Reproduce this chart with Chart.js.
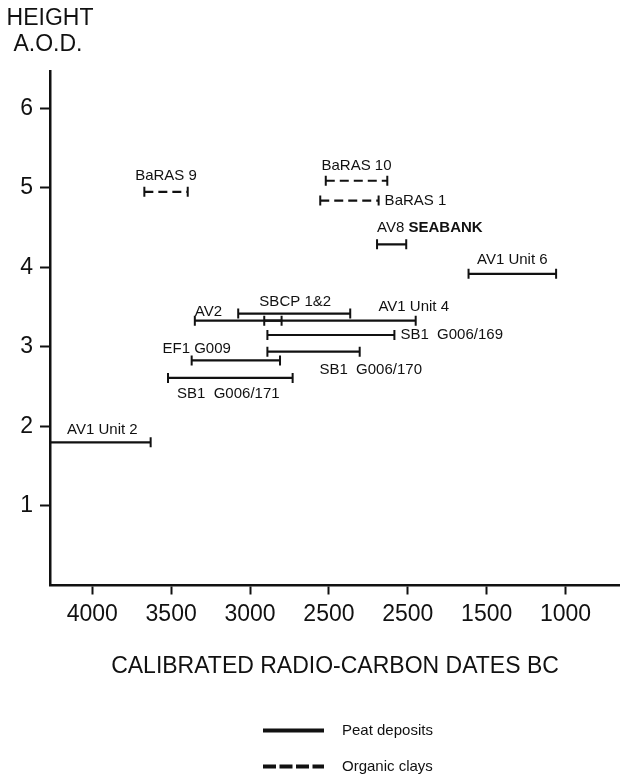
<!DOCTYPE html>
<html>
<head>
<meta charset="utf-8">
<title>Radiocarbon dates and heights</title>
<script src="https://cdn.jsdelivr.net/npm/chart.js@4.4.1/dist/chart.umd.min.js"></script>
<style>
    html, body { margin: 0; padding: 0; background: #fff; overflow: hidden; }
    /* a little wider than the window: Chart.js keeps room for the end caps on the right */
    #wrap { width: 627px; height: 779px; position: relative; }
</style>
</head>
<body>
<div id="wrap"><canvas id="datesChart"></canvas></div>
<script>
// Date ranges (cal BC) and heights (m A.O.D.)
const sampleNames = ['BaRAS 9', 'BaRAS 10', 'BaRAS 1', 'AV8 SEABANK', 'AV1 Unit 6', 'SBCP 1&2', 'AV2',
    'AV1 Unit 4', 'SB1  G006/169', 'SB1  G006/170', 'EF1 G009', 'SB1  G006/171', 'AV1 Unit 2'];
const dateFrom = [3670, 2520, 2555, 2195, 1615, 3075, 3350, 2910, 2890, 2890, 3370, 3520, 4300];
const dateTo = [3395, 2130, 2185, 2010, 1060, 2365, 2800, 1950, 2085, 2305, 2810, 2730, 3630];
const heights = [4.95, 5.09, 4.84, 4.29, 3.92, 3.42, 3.33, 3.33, 3.15, 2.94, 2.83, 2.61, 1.80];
const deposit = ['clay', 'clay', 'clay', 'peat', 'peat', 'peat', 'peat', 'peat', 'peat', 'peat', 'peat', 'peat', 'peat'];

const xTickValues = [4000, 3500, 3000, 2500, 2000, 1500, 1000];
const xTickLabels = ['4000', '3500', '3000', '2500', '2500', '1500', '1000'];
const yTickValues = [1, 2, 3, 4, 5, 6];

const legendNames = ['Peat deposits', 'Organic clays'];

// where each label sits relative to its bar: anchor, text align, pixel offsets
const labelPlace = [
    ['mid', 'center', 0, -16], ['mid', 'center', 0, -15], ['end', 'left', 6, 0],
    ['start', 'left', 0, -16], ['mid', 'center', 0, -14], ['mid', 'center', 1, -12],
    ['start', 'left', 0, -9], ['end', 'center', -2, -14], ['end', 'left', 6, 0],
    ['end', 'center', 11, 18], ['start', 'center', 5, -12], ['start', 'left', 9, 16],
    ['end', 'right', -13, -13]
];

const FONT = '"Liberation Sans", Arial, Helvetica, sans-serif';
const INK = '#111';
const X_MIN = 655, X_MAX = 4268;

function capRadius(ctx) {
    const v = ctx.raw.x;
    return (v >= X_MIN && v <= X_MAX) ? 5 : 0;
}

const datasets = sampleNames.map(function(name, i) {
    return {
        label: name,
        data: [{ x: dateFrom[i], y: heights[i] }, { x: dateTo[i], y: heights[i] }],
        borderColor: INK,
        borderWidth: 2.2,
        borderDash: deposit[i] === 'clay' ? [9, 5] : [],
        pointStyle: 'line',
        rotation: 90,
        pointRadius: capRadius,
        pointBorderWidth: 2,
        pointBorderColor: INK,
        fill: false,
        tension: 0
    };
});

// bar labels, axis heading and key
const annotations = {
    id: 'annotations',
    afterDatasetsDraw(chart) {
        const c = chart.ctx;
        const xs = chart.scales.x, ys = chart.scales.y;
        c.save();
        c.fillStyle = INK;
        c.textBaseline = 'middle';
        sampleNames.forEach(function(name, i) {
            const p = labelPlace[i];
            const x0 = xs.getPixelForValue(Math.min(dateFrom[i], X_MAX));
            const x1 = xs.getPixelForValue(dateTo[i]);
            let ax = p[0] === 'start' ? x0 : (p[0] === 'end' ? x1 : (x0 + x1) / 2);
            const ay = ys.getPixelForValue(heights[i]) + p[3];
            ax += p[2];
            if (name === 'AV8 SEABANK') {
                c.font = '15px ' + FONT;
                c.textAlign = 'left';
                const w = c.measureText('AV8 ').width;
                c.fillText('AV8 ', ax, ay);
                c.font = 'bold 15px ' + FONT;
                c.fillText('SEABANK', ax + w, ay);
                return;
            }
            c.font = '15px ' + FONT;
            c.textAlign = p[1];
            c.fillText(name, ax, ay);
        });

        // y heading
        c.font = '23px ' + FONT;
        c.textAlign = 'center';
        c.fillText('HEIGHT', 50, 19);
        c.fillText('A.O.D.', 48, 45);

        // key
        c.strokeStyle = INK;
        c.lineWidth = 4;
        [730.5, 766.5].forEach(function(y, k) {
            c.setLineDash(k === 0 ? [] : [13, 3.5]);
            c.beginPath();
            c.moveTo(263, y);
            c.lineTo(324, y);
            c.stroke();
            c.font = '15px ' + FONT;
            c.textAlign = 'left';
            c.fillText(legendNames[k], 342, y);
        });
        c.restore();
    }
};

document.addEventListener('DOMContentLoaded', function() {
    const ctx = document.getElementById('datesChart').getContext('2d');
    new Chart(ctx, {
        type: 'line',
        data: { datasets: datasets },
        options: {
            responsive: true,
            maintainAspectRatio: false,
            animation: false,
            events: [],
            layout: { padding: { top: 71, left: 0, right: 0, bottom: 0 } },
            plugins: {
                legend: { display: false },
                tooltip: { enabled: false }
            },
            scales: {
                x: {
                    type: 'linear',
                    reverse: true,
                    min: X_MIN,
                    max: X_MAX,
                    afterFit: function(scale) { scale.height = 193.5; },
                    afterBuildTicks: function(scale) {
                        scale.ticks = xTickValues.map(v => ({ value: v }));
                    },
                    border: { color: INK, width: 2.5 },
                    grid: {
                        drawOnChartArea: false,
                        tickLength: 9,
                        tickWidth: 2,
                        tickColor: INK
                    },
                    ticks: {
                        color: INK,
                        padding: 6,
                        maxRotation: 0,
                        autoSkip: false,
                        font: { family: FONT, size: 23 },
                        callback: function(value) {
                            return xTickLabels[xTickValues.indexOf(value)];
                        }
                    },
                    title: {
                        display: true,
                        text: 'CALIBRATED RADIO-CARBON DATES BC',
                        color: INK,
                        font: { family: FONT, size: 23 },
                        padding: { top: 0, bottom: 99 }
                    }
                },
                y: {
                    type: 'linear',
                    min: 0,
                    max: 6.47,
                    afterFit: function(scale) { scale.width = 50; },
                    afterBuildTicks: function(scale) {
                        scale.ticks = yTickValues.map(v => ({ value: v }));
                    },
                    border: { color: INK, width: 2.5 },
                    grid: {
                        drawOnChartArea: false,
                        tickLength: 10,
                        tickWidth: 2,
                        tickColor: INK
                    },
                    ticks: {
                        color: INK,
                        padding: 7,
                        font: { family: FONT, size: 23 }
                    }
                }
            }
        },
        plugins: [annotations]
    });
});
</script>
</body>
</html>
